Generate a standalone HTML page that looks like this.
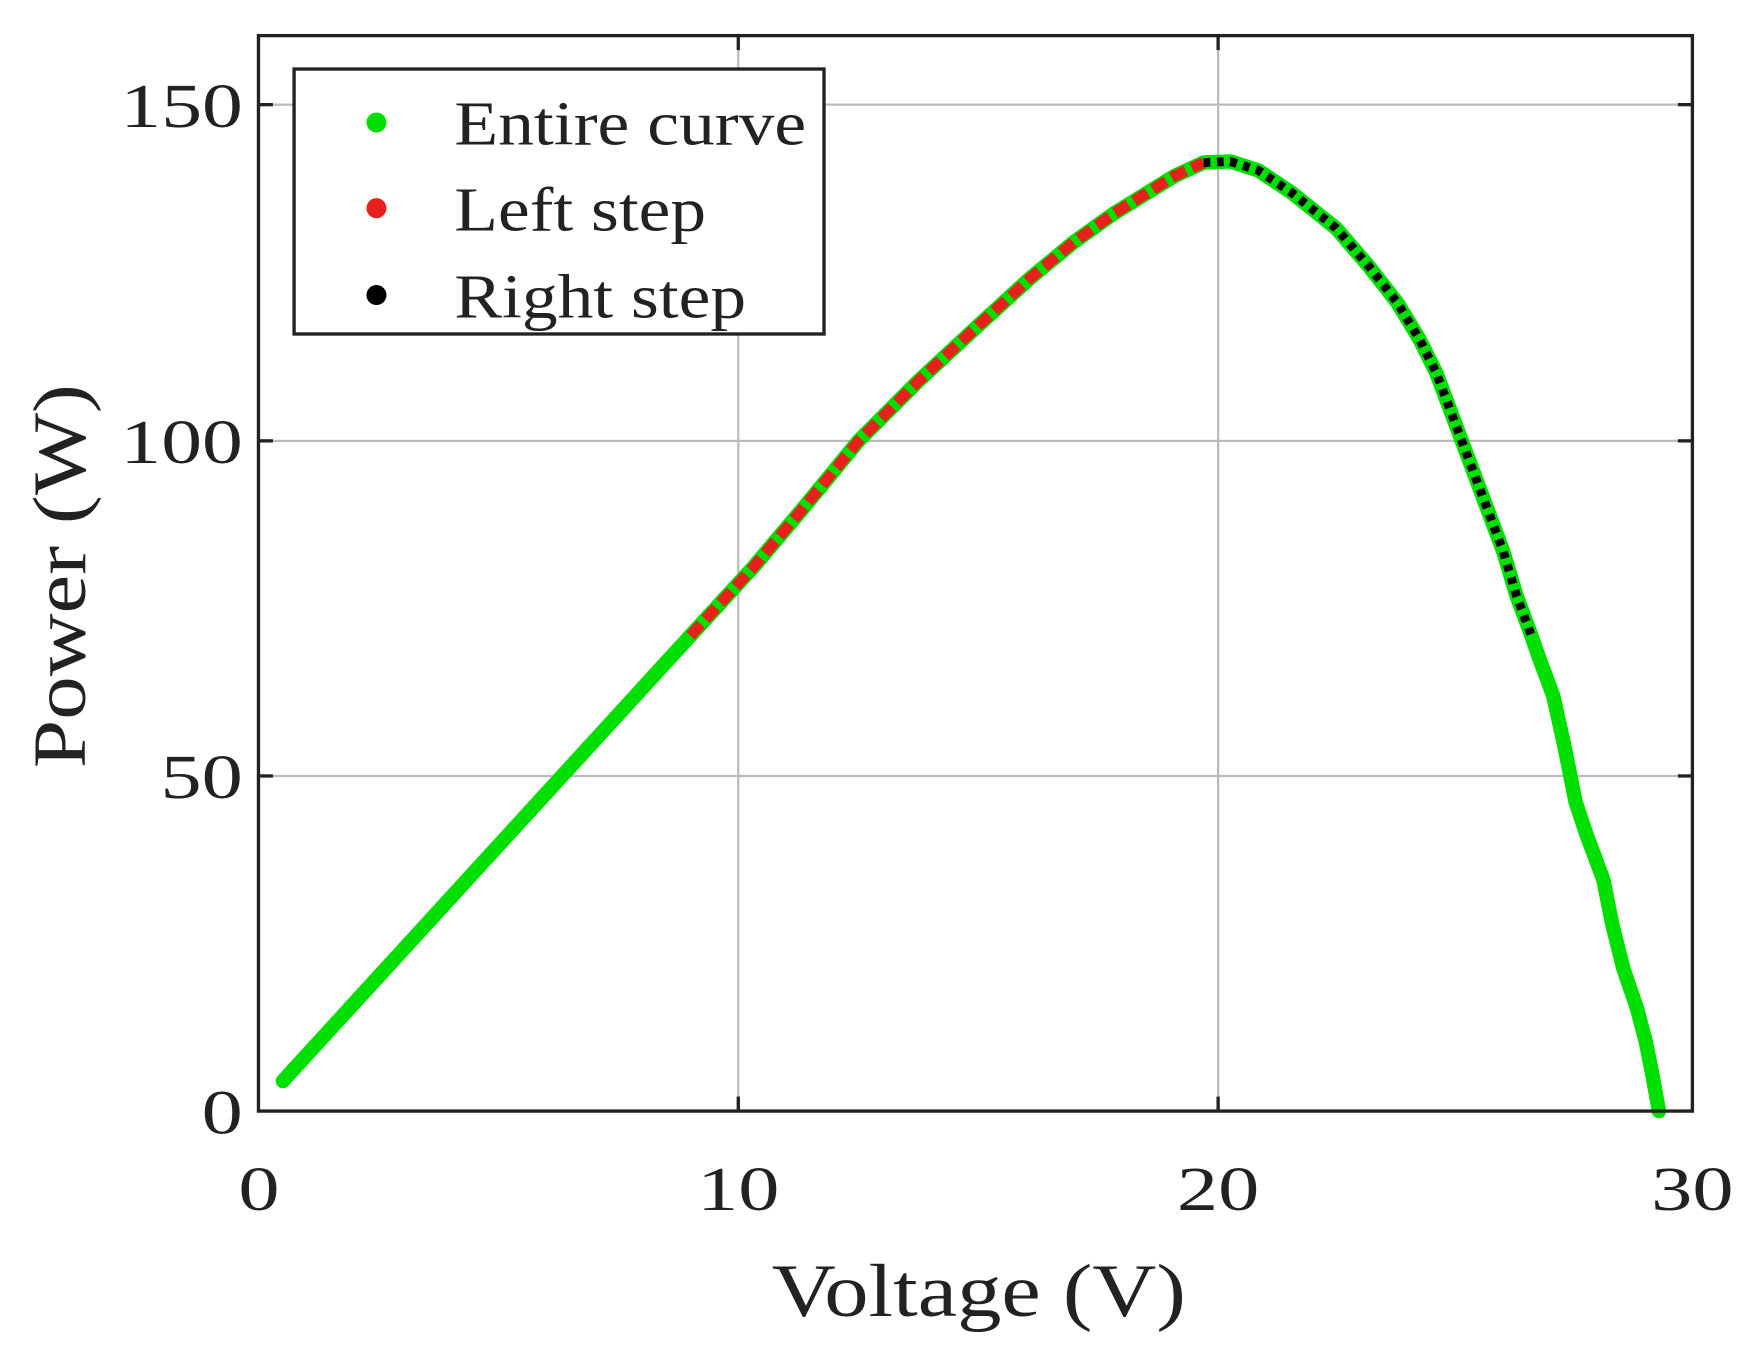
<!DOCTYPE html>
<html><head><style>body{margin:0;background:#fff}</style></head><body>
<svg width="1746" height="1356" viewBox="0 0 1568 1218" xmlns="http://www.w3.org/2000/svg" font-family="Liberation Serif, serif">
<rect width="1568" height="1218" fill="#fff"/>
<g stroke="#bbb" stroke-width="2">
<line x1="663" y1="32" x2="663" y2="998"/><line x1="1094" y1="32" x2="1094" y2="998"/>
<line x1="232" y1="94" x2="1520" y2="94"/><line x1="232" y1="396" x2="1520" y2="396"/><line x1="232" y1="697" x2="1520" y2="697"/>
</g>
<g stroke="#222" stroke-width="3">
<line x1="663" y1="998" x2="663" y2="985"/><line x1="1094" y1="998" x2="1094" y2="985"/>
<line x1="663" y1="32" x2="663" y2="45"/><line x1="1094" y1="32" x2="1094" y2="45"/>
<line x1="232" y1="94" x2="245" y2="94"/><line x1="232" y1="396" x2="245" y2="396"/><line x1="232" y1="697" x2="245" y2="697"/>
<line x1="1520" y1="94" x2="1507" y2="94"/><line x1="1520" y1="396" x2="1507" y2="396"/><line x1="1520" y1="697" x2="1507" y2="697"/>
</g>
<g fill="none" stroke-linecap="round" stroke-linejoin="round">
<polyline stroke="#00e000" stroke-width="13" points="254,971 620,571 676,510 720,458 771,396 825,342 879,292 925,250 965,217 1000,192 1029,174 1055,158 1081,146 1105,145 1130,153 1160,173 1200,205 1230,240 1255,272 1275,305 1290,335 1305,375 1320,415 1335,455 1350,495 1362,535 1375,570 1382,590 1395,625 1405,670 1415,720 1425,750 1440,790 1448,830 1458,870 1470,905 1478,935 1484,965 1490,998"/>
<polyline stroke="#e8201c" stroke-width="10" stroke-dasharray="14 6" stroke-linecap="butt" points="620,571 676,510 720,458 771,396 825,342 879,292 925,250 965,217 1000,192 1029,174 1055,158 1081,146"/>
<polyline stroke="#000" stroke-width="8" stroke-dasharray="6 6" stroke-linecap="butt" points="1081,146 1105,145 1130,153 1160,173 1200,205 1230,240 1255,272 1275,305 1290,335 1305,375 1320,415 1335,455 1350,495 1362,535 1375,570"/>
</g>
<rect x="232" y="32" width="1288" height="966" fill="none" stroke="#222" stroke-width="3"/>
<rect x="264" y="62" width="476" height="238" fill="#fff" stroke="#222" stroke-width="3"/>
<circle cx="338" cy="110" r="9" fill="#00e000"/><circle cx="338" cy="187" r="9" fill="#e8201c"/><circle cx="338" cy="265" r="9" fill="#000"/>
<g font-size="56" fill="#222" lengthAdjust="spacingAndGlyphs">
<text x="408" y="130" textLength="316" lengthAdjust="spacingAndGlyphs">Entire curve</text>
<text x="408" y="207" textLength="226" lengthAdjust="spacingAndGlyphs">Left step</text>
<text x="408" y="285" textLength="262" lengthAdjust="spacingAndGlyphs">Right step</text>
<text x="108" y="114" textLength="110" lengthAdjust="spacingAndGlyphs">150</text>
<text x="108" y="416" textLength="110" lengthAdjust="spacingAndGlyphs">100</text>
<text x="144" y="717" textLength="74" lengthAdjust="spacingAndGlyphs">50</text>
<text x="181" y="1018" textLength="37" lengthAdjust="spacingAndGlyphs">0</text>
<text x="214" y="1087" textLength="37" lengthAdjust="spacingAndGlyphs">0</text>
<text x="626" y="1087" textLength="74" lengthAdjust="spacingAndGlyphs">10</text>
<text x="1057" y="1087" textLength="74" lengthAdjust="spacingAndGlyphs">20</text>
<text x="1483" y="1087" textLength="74" lengthAdjust="spacingAndGlyphs">30</text>
</g>
<text x="693" y="1182" font-size="68" textLength="372" lengthAdjust="spacingAndGlyphs" fill="#222">Voltage (V)</text>
<text transform="translate(76,690) rotate(-90)" font-size="68" textLength="345" lengthAdjust="spacingAndGlyphs" fill="#222">Power (W)</text>
</svg>
</body></html>
